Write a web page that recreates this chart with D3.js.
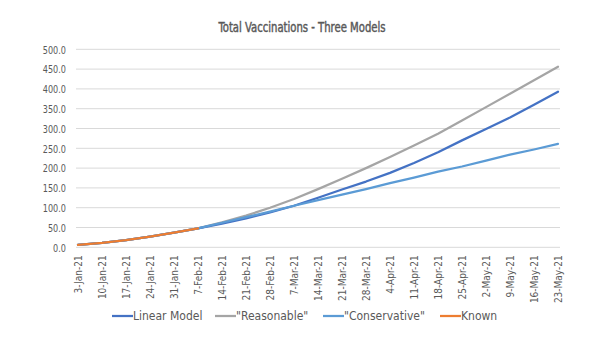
<!DOCTYPE html>
<html>
<head>
<meta charset="utf-8">
<script src="https://cdn.jsdelivr.net/npm/d3@7"></script>
<style>
  body { margin: 0; background: #fff; }
  svg { display: block; }
  text { font-family: "DejaVu Sans Condensed", "Liberation Sans Narrow", "Roboto", sans-serif; fill: #595959; }
</style>
</head>
<body>
<svg id="chart" width="594" height="348"></svg>
<script>
const categories = ["3-Jan-21","10-Jan-21","17-Jan-21","24-Jan-21","31-Jan-21","7-Feb-21","14-Feb-21","21-Feb-21","28-Feb-21","7-Mar-21","14-Mar-21","21-Mar-21","28-Mar-21","4-Apr-21","11-Apr-21","18-Apr-21","25-Apr-21","2-May-21","9-May-21","16-May-21","23-May-21"];
const linearModel = [6, 11, 18, 27, 37, 48, 60, 73, 88, 105, 125, 146, 166, 188, 213, 240, 270, 299, 328, 360, 393];
const reasonable = [6, 11, 18, 27, 37, 48, 63, 80, 100, 122, 147, 173, 200, 228, 257, 287, 320, 354, 388, 422, 456];
const conservative = [6, 11, 18, 27, 37, 48, 62, 76, 90, 105, 119, 133, 147, 162, 176, 191, 204, 219, 234, 247, 261];
const known = [6, 11, 18, 27, 37, 48];
const yTicks = [0, 50, 100, 150, 200, 250, 300, 350, 400, 450, 500];
const seriesNames = ["Linear Model", "\"Reasonable\"", "\"Conservative\"", "Known"];
const seriesColors = ["#4472C4", "#A5A5A5", "#5B9BD5", "#ED7D31"];

const svg = d3.select("#chart");
const x = d3.scalePoint().domain(categories).range([78, 558]);
const y = d3.scaleLinear().domain([0, 500]).range([247.3, 49.3]);

// title
svg.append("g").attr("transform", "translate(302,32) scale(0.8,1)")
  .append("text").attr("x", 0).attr("y", 0).attr("text-anchor", "middle")
  .style("font-size", "14px").attr("stroke", "#595959").attr("stroke-width", 0.45)
  .text("Total Vaccinations - Three Models");

// gridlines
svg.append("g").selectAll("line").data(yTicks).join("line")
  .attr("x1", 76).attr("x2", 560)
  .attr("y1", d => y(d)).attr("y2", d => y(d))
  .attr("stroke", "#d9d9d9").attr("stroke-width", 1);

// y axis labels
const yAxis = d3.axisLeft(y).tickValues(yTicks).tickFormat(d3.format(".1f")).tickSize(0).tickPadding(0);
const ya = svg.append("g").attr("transform", "translate(66,0) scale(0.82,1)").call(yAxis);
ya.select(".domain").remove();
ya.selectAll("text").style("font-size", "11px").attr("fill", "#595959").attr("dy", "0.35em");

// x axis labels
const xAxis = d3.axisBottom(x).tickSize(0).tickPadding(0);
const xa = svg.append("g").attr("transform", `translate(0,${y(0)})`).call(xAxis);
xa.select(".domain").remove();
xa.selectAll("text")
  .attr("transform", "rotate(-90)")
  .attr("text-anchor", "end")
  .attr("x", -8).attr("y", 0).attr("dy", "0.35em")
  .style("font-size", "10px").attr("fill", "#595959");

const line = d3.line().x((d, i) => x(categories[i])).y(d => y(d));
const allSeries = [linearModel, reasonable, conservative, known];
[1, 0, 2, 3].forEach(k => {
  svg.append("path").datum(allSeries[k]).attr("d", line)
    .attr("fill", "none").attr("stroke", seriesColors[k]).attr("stroke-width", 2.25)
    .attr("stroke-linejoin", "round").attr("stroke-linecap", "round");
});

// legend
const legendX = [112, 215, 323, 440];
const lg = svg.append("g");
seriesNames.forEach((n, k) => {
  lg.append("line").attr("x1", legendX[k]).attr("x2", legendX[k] + 21)
    .attr("y1", 316).attr("y2", 316).attr("stroke", seriesColors[k]).attr("stroke-width", 2.25);
  lg.append("text").attr("x", legendX[k] + 21).attr("y", 316).attr("dy", "0.35em")
    .style("font-size", "12px").text(n);
});
</script>
</body>
</html>
